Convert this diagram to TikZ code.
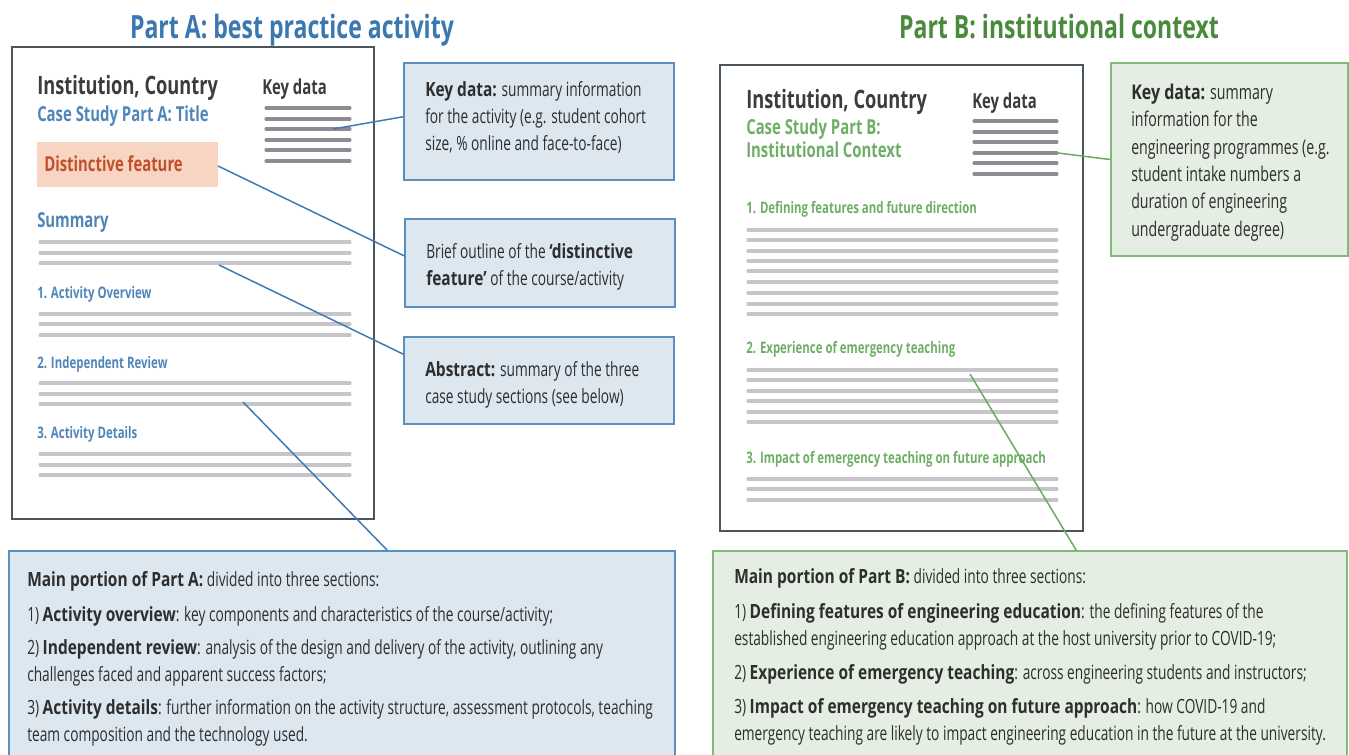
\documentclass[tikz,border=0pt]{standalone}
\usepackage{fontspec}
\setmainfont{Open Sans}[FakeStretch=0.70, BoldFeatures={FakeStretch=0.79}]
\newfontfamily\docfont{Open Sans}[FakeStretch=0.72]
\usetikzlibrary{fit}
\definecolor{titleA}{HTML}{3B78B0}
\definecolor{titleB}{HTML}{4A8A3C}
\definecolor{docblue}{HTML}{4F86B9}
\definecolor{docgreen}{HTML}{6FAE67}
\definecolor{docgray}{HTML}{4B555E}
\definecolor{darktext}{HTML}{3C3C3C}
\definecolor{bodytext}{HTML}{2E2E2E}
\definecolor{keygray}{HTML}{8C8C94}
\definecolor{linegray}{HTML}{C5C5CA}
\definecolor{peach}{HTML}{F8D4C2}
\definecolor{peachtext}{HTML}{C2502C}
\definecolor{boxAfill}{HTML}{DDE7F0}
\definecolor{boxAline}{HTML}{5B8FC0}
\definecolor{boxBfill}{HTML}{E5EEE2}
\definecolor{boxBline}{HTML}{82B87A}
\definecolor{conAcol}{HTML}{3D7AB3}
\definecolor{conBcol}{HTML}{6AAA5F}
\tikzset{
  docframe/.style={draw=docgray, line width=1.9pt, fill=white},
  kline/.style={draw=keygray, line width=2.3pt, line cap=round},
  cline/.style={draw=linegray, line width=2.3pt, line cap=round},
  boxA/.style={draw=boxAline, fill=boxAfill, line width=1.2pt, inner sep=0pt},
  boxB/.style={draw=boxBline, fill=boxBfill, line width=1.2pt, inner sep=0pt},
  conA/.style={draw=conAcol, line width=1.1pt},
  conB/.style={draw=conBcol, line width=1.1pt},
  txt/.style={anchor=base west, inner sep=0pt, align=left},
  body/.style={txt, text=bodytext, font=\fontsize{14.7}{19.9}\selectfont},
  bigbody/.style={txt, text=bodytext, font=\fontsize{14.7}{20.25}\selectfont},
  headA/.style={txt, text=docblue, font=\docfont\fontsize{11.9}{14}\selectfont\bfseries},
  headB/.style={txt, text=docgreen, font=\docfont\fontsize{11.9}{14}\selectfont\bfseries},
  instf/.style={txt, text=darktext, font=\docfont\fontsize{19}{22}\selectfont\bfseries},
  keyf/.style={txt, text=darktext, font=\docfont\fontsize{15.5}{18}\selectfont\bfseries},
  csf/.style={txt, font=\docfont\fontsize{15.5}{18}\selectfont\bfseries},
  ttl/.style={font=\docfont\fontsize{24}{28}\selectfont\bfseries, anchor=base},
}
\begin{document}
\begin{tikzpicture}[x=0.75pt,y=-0.75pt]
\useasboundingbox[fill=white] (0,0) rectangle (1349,754);

% titles
\node[ttl, text=titleA] (ttlA) at (292,38) {Part A: best practice activity};
\node[ttl, text=titleB] (ttlB) at (1059,38) {Part B: institutional context};

% ---------- document A ----------
\draw[docframe] (12,47) rectangle (374,519);
\node[instf] (instA) at (37,94) {Institution, Country};
\node[csf, text=docblue] (csA) at (37,121) {Case Study Part A: Title};
\node[keyf] (kdA) at (262,94) {Key data};
\foreach \y in {108,119,129,140,150,161} \draw[kline] (266,\y) -- (350,\y);
\fill[peach] (37,142) rectangle (218,187);
\node[csf, text=peachtext] (dfA) at (44,171) {Distinctive feature};
\node[csf, text=docblue] (sumA) at (37,227) {Summary};
\foreach \y in {242,253,263} \draw[cline] (40,\y) -- (350,\y);
\node[headA] (h1A) at (37,298) {1. Activity Overview};
\foreach \y in {314,324,335} \draw[cline] (40,\y) -- (350,\y);
\node[headA] (h2A) at (37,368) {2. Independent Review};
\foreach \y in {383,394,404} \draw[cline] (40,\y) -- (350,\y);
\node[headA] (h3A) at (37,438) {3. Activity Details};
\foreach \y in {454,465,475} \draw[cline] (40,\y) -- (350,\y);

\coordinate (kdAsrc) at (333,129);
\coordinate (dfAsrc) at (218,166);
\coordinate (sumAsrc) at (219,265);
\coordinate (revAsrc) at (243,402);

% callouts A
\node[boxA, fit={(404,63) (674,180)}] (cbKA) {};
\node[body] (cbKAt) at (425,150) {\textbf{Key data:} summary information\\for the activity (e.g. student cohort\\size, \% online and face-to-face)};
\node[boxA, fit={(405,219) (675,307)}] (cbDA) {};
\node[body] (cbDAt) at (426,285) {Brief outline of the \textbf{‘distinctive}\\\textbf{feature’} of the course/activity};
\node[boxA, fit={(404,337) (674,424)}] (cbSA) {};
\node[body] (cbSAt) at (425,403) {\textbf{Abstract:} summary of the three\\case study sections (see below)};

\node[boxA, fit={(9,551) (675,790)}] (mainA) {};
\node[bigbody] (mainAt) at (27,741) {\textbf{Main portion of Part A:} divided into three sections:\\[6pt]
1) \textbf{Activity overview}: key components and characteristics of the course/activity;\\[4.5pt]
2) \textbf{Independent review}: analysis of the design and delivery of the activity, outlining any\\
challenges faced and apparent success factors;\\[4.5pt]
3) \textbf{Activity details}: further information on the activity structure, assessment protocols, teaching\\
team composition and the technology used.};

\draw[conA] (kdAsrc) -- (cbKA.178.5);
\draw[conA] (dfAsrc) -- (cbDA.177.5);
\draw[conA] (sumAsrc) -- (cbSA.169.3);
\draw[conA] (revAsrc) -- ([xshift=284.25pt]mainA.north west);

% ---------- document B ----------
\draw[docframe] (720,65) rectangle (1083,531);
\node[instf] (instB) at (746,108) {Institution, Country};
\node[keyf] (kdB) at (972,108) {Key data};
\node[csf, text=docgreen] (csB1) at (746,134) {Case Study Part B:};
\node[csf, text=docgreen] (csB2) at (746,157) {Institutional Context};
\foreach \y in {121,132,142,153,163,174} \draw[kline] (974,\y) -- (1057,\y);
\node[headB] (h1B) at (746,213) {1. Defining features and future direction};
\foreach \y in {230,240,251,261,271,282,293,304,314} \draw[cline] (748,\y) -- (1057,\y);
\node[headB] (h2B) at (746,353) {2. Experience of emergency teaching};
\foreach \y in {370,380,391,401,412,422} \draw[cline] (748,\y) -- (1057,\y);
\node[headB] (h3B) at (746,463) {3. Impact of emergency teaching on future approach};
\foreach \y in {479,489,500} \draw[cline] (748,\y) -- (1057,\y);

\coordinate (kdBsrc) at (1058,153);
\coordinate (expBsrc) at (970,374);

\node[boxB, fit={(1111,63) (1348,256)}] (cbKB) {};
\node[body, font=\fontsize{15.2}{20.5}\selectfont] (cbKBt) at (1131,236) {\textbf{Key data:} summary\\information for the\\engineering programmes (e.g.\\student intake numbers a\\duration of engineering\\undergraduate degree)};

\node[boxB, fit={(713,551) (1347,790)}] (mainB) {};
\node[bigbody] (mainBt) at (734,740) {\textbf{Main portion of Part B:} divided into three sections:\\[6pt]
1) \textbf{Defining features of engineering education}: the defining features of the\\
established engineering education approach at the host university prior to COVID-19;\\[5pt]
2) \textbf{Experience of emergency teaching}: across engineering students and instructors;\\[5pt]
3) \textbf{Impact of emergency teaching on future approach}: how COVID-19 and\\
emergency teaching are likely to impact engineering education in the future at the university.};

\draw[conB] (kdBsrc) -- (cbKB.west);
\draw[conB] (expBsrc) -- ([xshift=273pt]mainB.north west);
\end{tikzpicture}
\end{document}
